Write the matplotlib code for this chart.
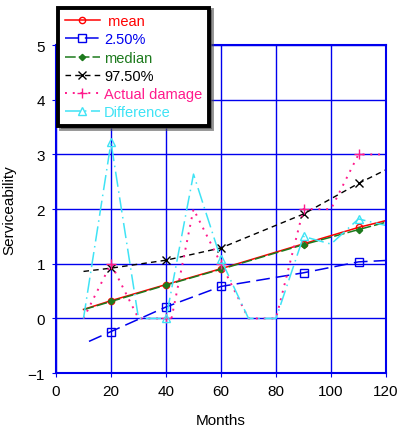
import matplotlib
matplotlib.use("Agg")
import matplotlib.pyplot as plt

plt.rcParams["font.family"] = ["Liberation Sans", "DejaVu Sans"]

# inspection months carry the markers; the lines run a little past them
insp = [20, 40, 60, 90, 110]

mean_x = [10, 20, 40, 60, 90, 110, 120]
mean_y = [0.165, 0.325, 0.62, 0.91, 1.365, 1.665, 1.79]

lo_x = [12, 20, 40, 60, 90, 110, 120]
lo_y = [-0.42, -0.24, 0.21, 0.585, 0.835, 1.035, 1.06]

med_x = [10, 20, 40, 60, 90, 110, 120]
med_y = [0.16, 0.31, 0.61, 0.90, 1.35, 1.625, 1.76]

hi_x = [10, 20, 40, 60, 90, 110, 120]
hi_y = [0.86, 0.92, 1.065, 1.29, 1.91, 2.47, 2.72]

dmg_x = [10, 20, 30, 40, 42, 50, 60, 70, 80, 90, 100, 110, 120]
dmg_y = [0, 1.0, 0, 0, 0, 2.0, 1.0, 0, 0, 2.0, 2.0, 3.0, 3.0]

diff_x = [10, 20, 30, 40, 50, 60, 70, 80, 90, 100, 110, 120]
diff_y = [0, 3.22, 0, 0, 2.64, 1.08, 0, 0, 1.5, 1.36, 1.82, 1.70]


def marks(xs):
    return [i for i, v in enumerate(xs) if v in insp]


fig = plt.figure(figsize=(4.0, 4.35), dpi=100)
ax = fig.add_axes([0.14, 0.14, 0.825, 0.754])

blue = "#0000ee"
ax.plot(mean_x, mean_y, color="#ff0000", lw=1.1, marker="o", ms=4.5,
        mfc="none", mec="#ff0000", markevery=marks(mean_x), label=" mean")
ax.plot(lo_x, lo_y, color=blue, lw=1.1, ls=(0, (9, 4)), marker="s", ms=5.5,
        mfc="none", mec=blue, markevery=marks(lo_x), label="2.50%")
ax.plot(med_x, med_y, color="#1d7a1d", lw=1.1, ls=(0, (7, 2)), marker="D", ms=3.2,
        mfc="#1d7a1d", mec="#1d7a1d", markevery=marks(med_x), label="median")
ax.plot(hi_x, hi_y, color="black", lw=1.0, ls=(0, (4, 3)), marker="x", ms=5.5,
        markevery=marks(hi_x), label="97.50%")
ax.plot(dmg_x, dmg_y, color="#ff1a8c", lw=1.4, ls=(0, (1, 3)), marker="+", ms=7,
        markevery=marks(dmg_x), label="Actual damage")
ax.plot(diff_x, diff_y, color="#3fe3f5", lw=1.1, ls=(0, (10, 3, 1, 3)), marker="^", ms=5.5,
        mfc="none", mec="#3fe3f5", markevery=marks(diff_x), label="Difference")

ax.set_xlim(0, 120)
ax.set_ylim(-1, 5)
ax.set_xticks(range(0, 121, 20))
ax.set_yticks(range(-1, 6))
ax.grid(True, color=blue, lw=1.0)
ax.set_axisbelow(True)
for s in ax.spines.values():
    s.set_color(blue)
    s.set_linewidth(1.5)
ax.tick_params(direction="out", length=3, color=blue, labelsize=11, pad=5)
ax.set_xlabel("Months", fontsize=11, labelpad=11)
ax.set_ylabel("Serviceability", fontsize=11, labelpad=8)

leg = ax.legend(loc="upper left", bbox_to_anchor=(0.145, 0.98),
                bbox_transform=fig.transFigure, fontsize=10.5, frameon=True,
                fancybox=False, shadow={"color": "0.3", "alpha": 0.6},
                handlelength=2.4, handletextpad=0.3, labelspacing=0.29,
                borderpad=0.45, borderaxespad=0)
leg.get_frame().set_edgecolor("black")
leg.get_frame().set_linewidth(2.8)
leg.get_frame().set_alpha(1)
for txt, line in zip(leg.get_texts(), leg.get_lines()):
    txt.set_color(line.get_color())

fig.savefig("out.png", dpi=100)
